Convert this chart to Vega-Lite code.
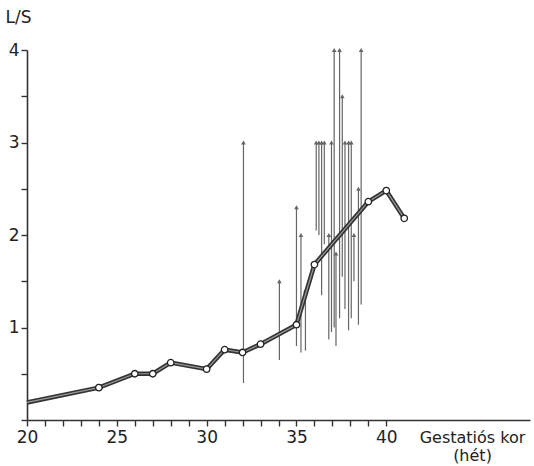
{
  "$schema": "https://vega.github.io/schema/vega-lite/v6.json",
  "width": 503,
  "height": 370,
  "autosize": "none",
  "padding": {"left": 27, "top": 50, "right": 4, "bottom": 46},
  "background": "white",
  "config": {
    "view": {"stroke": null},
    "font": "DejaVu Sans",
    "axis": {"domainColor": "#333", "tickColor": "#333", "labelColor": "#222", "titleColor": "#222", "labelFont": "DejaVu Sans", "titleFont": "DejaVu Sans", "labelFontSize": 17, "titleFontSize": 16, "titleFontWeight": "normal", "grid": false, "domainWidth": 1.6, "tickWidth": 1.4}
  },
  "datasets": {
    "curve": [
      {"week": 20, "ls": 0.19},
      {"week": 24, "ls": 0.35},
      {"week": 26, "ls": 0.5},
      {"week": 27, "ls": 0.5},
      {"week": 28, "ls": 0.62},
      {"week": 30, "ls": 0.55},
      {"week": 31, "ls": 0.76},
      {"week": 32, "ls": 0.73},
      {"week": 33, "ls": 0.82},
      {"week": 35, "ls": 1.03},
      {"week": 36, "ls": 1.68},
      {"week": 39, "ls": 2.36},
      {"week": 40, "ls": 2.48},
      {"week": 41, "ls": 2.18}
    ],
    "arrows": [
      {"week": 32.05, "low": 0.4, "high": 3.0},
      {"week": 34.05, "low": 0.65, "high": 1.5},
      {"week": 35.0, "low": 0.8, "high": 2.3},
      {"week": 35.25, "low": 0.73, "high": 2.0},
      {"week": 35.5, "low": 0.75, "high": 1.4},
      {"week": 36.1, "low": 2.05, "high": 3.0},
      {"week": 36.25, "low": 2.0, "high": 3.0},
      {"week": 36.4, "low": 1.35, "high": 3.0},
      {"week": 36.55, "low": 1.9, "high": 3.0},
      {"week": 36.8, "low": 0.87, "high": 2.0},
      {"week": 36.95, "low": 0.95, "high": 3.0},
      {"week": 37.1, "low": 1.0, "high": 4.0},
      {"week": 37.2, "low": 0.8, "high": 1.8},
      {"week": 37.4, "low": 1.1, "high": 4.0},
      {"week": 37.55, "low": 1.55, "high": 3.5},
      {"week": 37.7, "low": 1.2, "high": 3.0},
      {"week": 37.9, "low": 0.97, "high": 3.0},
      {"week": 38.05, "low": 1.1, "high": 3.0},
      {"week": 38.2, "low": 1.5, "high": 2.0},
      {"week": 38.45, "low": 1.03, "high": 2.5},
      {"week": 38.6, "low": 1.25, "high": 4.0}
    ]
  },
  "encoding": {
    "x": {"field": "week", "type": "quantitative",
      "scale": {"domain": [20, 48], "nice": false, "zero": false},
      "axis": {"values": [20,21,22,23,24,25,26,27,28,29,30,31,32,33,34,35,36,37,38,39,40],
        "labelExpr": "datum.value % 5 == 0 ? datum.label : ''",
        "tickSize": 6,
        "labelPadding": 3, "labelFlush": false,
        "title": ["Gestatiós kor", "(hét)"], "titleX": 445, "titleY": 22, "titleBaseline": "alphabetic", "titleAlign": "center", "titleLineHeight": 18}}
  },
  "layer": [
    {
      "data": {"name": "arrows"},
      "mark": {"type": "rule", "color": "#666", "strokeWidth": 1.2, "clip": false},
      "encoding": {
        "y": {"field": "low", "type": "quantitative",
          "scale": {"domain": [0, 4], "nice": false},
          "axis": {"values": [0,0.5,1,1.5,2,2.5,3,3.5,4],
            "labelExpr": "datum.value % 1 == 0 && datum.value > 0 ? format(datum.value, 'd') : ''",
            "tickSize": 6, "labelPadding": 2,
            "title": "L/S", "titleFontSize": 17, "titleAngle": 0, "titleX": -22, "titleY": -28, "titleAlign": "left", "titleBaseline": "alphabetic"}},
        "y2": {"field": "high"}
      }
    },
    {
      "data": {"name": "arrows"},
      "mark": {"type": "point", "shape": "triangle-up", "filled": true, "color": "#666", "size": 22, "opacity": 1, "clip": false},
      "encoding": {
        "y": {"field": "high", "type": "quantitative", "title": "L/S"}
      }
    },
    {
      "data": {"name": "curve"},
      "mark": {"type": "line", "color": "#333", "strokeWidth": 4.5},
      "encoding": {
        "y": {"field": "ls", "type": "quantitative", "title": "L/S"}
      }
    },
    {
      "data": {"name": "curve"},
      "mark": {"type": "line", "color": "#999", "strokeWidth": 1.2},
      "encoding": {
        "y": {"field": "ls", "type": "quantitative", "title": "L/S"}
      }
    },
    {
      "data": {"name": "curve"},
      "transform": [{"filter": "datum.week > 20"}],
      "mark": {"type": "point", "shape": "circle", "filled": true, "fill": "white", "stroke": "#222", "strokeWidth": 1.3, "size": 42, "opacity": 1},
      "encoding": {
        "y": {"field": "ls", "type": "quantitative", "title": "L/S"}
      }
    }
  ]
}
